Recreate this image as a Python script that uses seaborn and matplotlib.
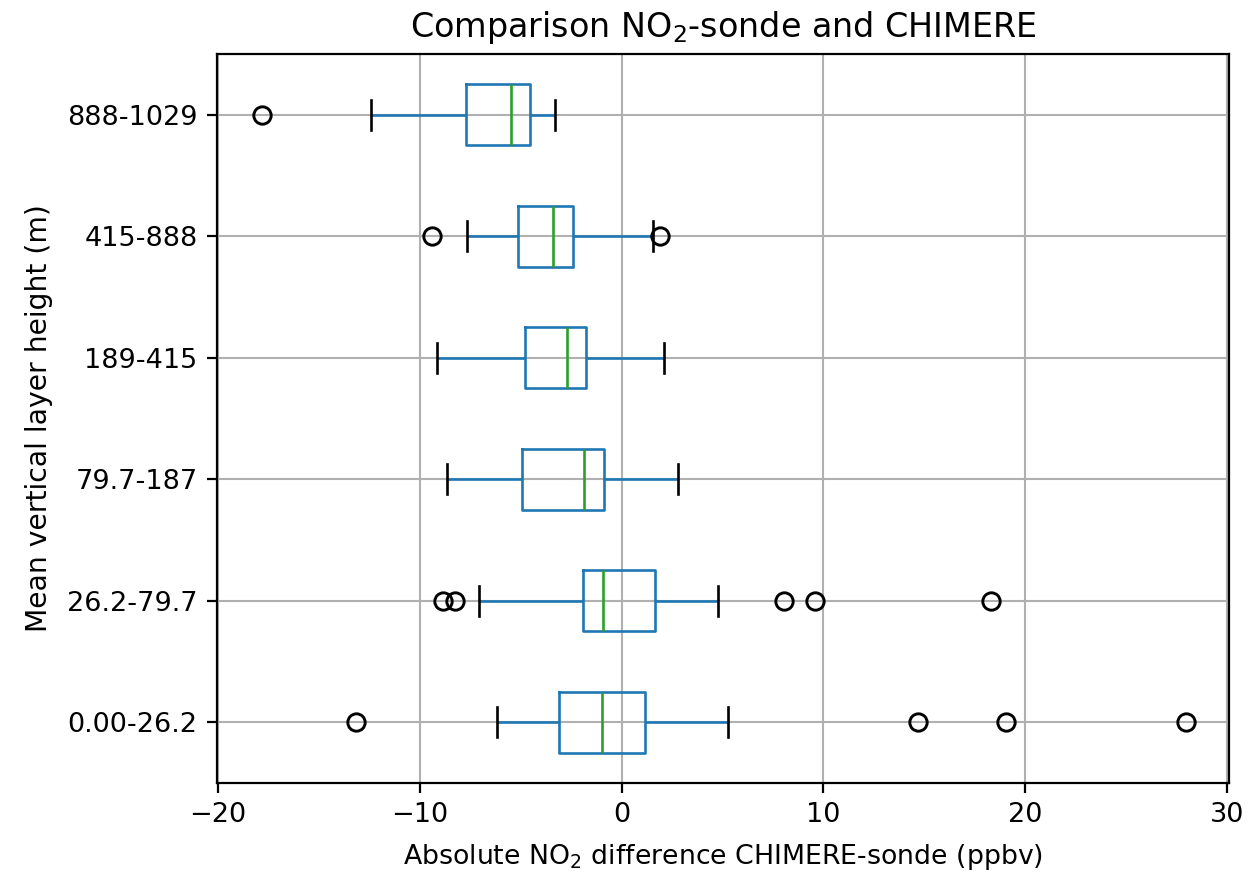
import matplotlib
matplotlib.use("Agg")
import matplotlib.pyplot as plt
import seaborn as sns
import pandas as pd

# Layer categories (top to bottom as displayed)
layers = ["888-1029", "415-888", "189-415", "79.7-187", "26.2-79.7", "0.00-26.2"]

# Absolute NO2 difference CHIMERE-sonde (ppbv) per layer (sorted observations)
diff_888_1029 = [-17.8, -12.4, -7.7, -6.5, -5.48, -5.0, -4.55, -4.0, -3.29]
diff_415_888 = [-9.38, -7.67, -5.15, -4.3, -3.41, -2.9, -2.4, 1.57, 1.9]
diff_189_415 = [-9.16, -4.8, -2.70, -1.78, 2.08]
diff_79_187 = [-8.67, -4.92, -1.88, -0.89, 2.78]
diff_26_79 = [-8.85, -8.26, -7.08, -3.5, -1.91, -1.6, -1.3, -1.1, -0.90,
              -0.3, 0.4, 1.0, 1.67, 4.76, 8.06, 9.58, 18.29]
diff_0_26 = [-13.16, -6.17, -4.8, -3.9, -3.08, -2.5, -1.9, -1.4, -0.98,
             -0.4, 0.2, 0.7, 1.18, 5.25, 14.7, 19.05, 27.95]

series = [diff_888_1029, diff_415_888, diff_189_415, diff_79_187, diff_26_79, diff_0_26]

rows = []
for lab, vals in zip(layers, series):
    for v in vals:
        rows.append({"layer": lab, "diff": v})
df = pd.DataFrame(rows)

plt.rcParams.update({
    "font.family": ["DejaVu Sans"],
    "axes.linewidth": 1.6,
    "xtick.major.size": 7,
    "ytick.major.size": 7,
    "xtick.major.width": 1.6,
    "ytick.major.width": 1.6,
    "xtick.major.pad": 7,
    "ytick.major.pad": 7,
    "xtick.labelsize": 19.5,
    "ytick.labelsize": 19.5,
})

fig = plt.figure(figsize=(12.58, 8.71), dpi=100)
ax = fig.add_axes([217 / 1258, 1 - 783 / 871, (1229 - 217) / 1258, (783 - 54) / 871])

blue = "#1f77b4"
lw = 1.9
sns.boxplot(
    data=df, x="diff", y="layer", order=layers, orient="h",
    width=0.5, fill=False, whis=1.5, color=blue, linewidth=lw, ax=ax,
    boxprops=dict(color=blue, linewidth=lw),
    whiskerprops=dict(color=blue, linewidth=lw),
    capprops=dict(color="black", linewidth=lw),
    medianprops=dict(color="#2ca02c", linewidth=lw),
    flierprops=dict(marker="o", markerfacecolor="none", markeredgecolor="black",
                    markersize=12.5, markeredgewidth=2.1, linestyle="none"),
)

ax.set_axisbelow(True)
ax.grid(True, which="major", axis="both", color="#b0b0b0", linewidth=1.5)

ax.set_xlim(-20.05, 30.1)
ax.set_xticks([-20, -10, 0, 10, 20, 30])
ax.set_title("Comparison NO$_2$-sonde and CHIMERE", fontsize=24, pad=12)
ax.set_xlabel("Absolute NO$_2$ difference CHIMERE-sonde (ppbv)", fontsize=19.3, labelpad=10)
ax.set_ylabel("Mean vertical layer height (m)", fontsize=20.3, labelpad=10)

fig.savefig("out.png", dpi=100)
